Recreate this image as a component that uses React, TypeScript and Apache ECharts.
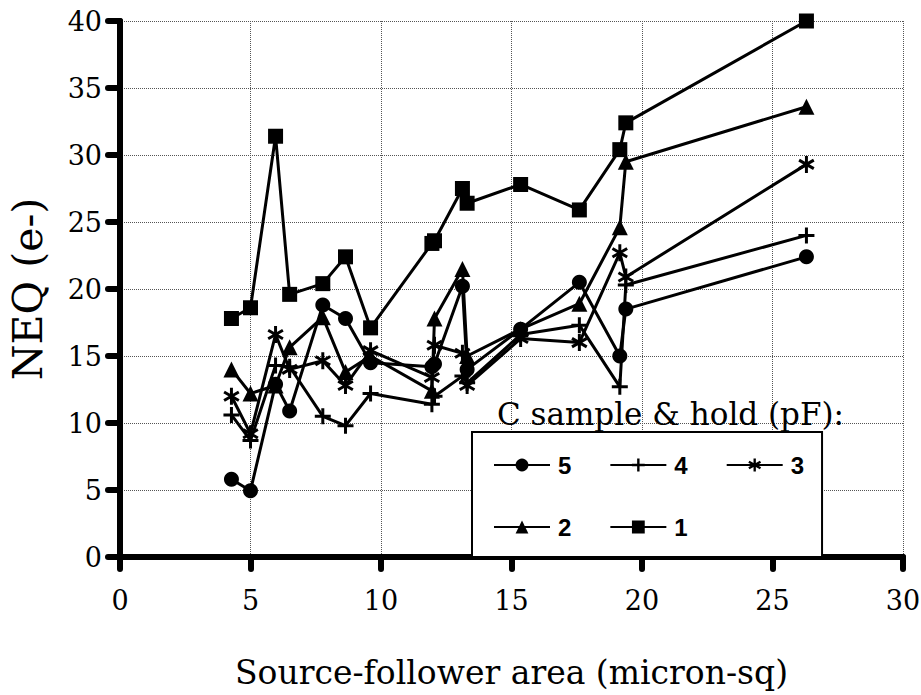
import React, { useEffect, useRef } from "react";
import * as echarts from "echarts";

// Source-follower area (micron-sq) for each measured device
const areas = [4.27, 5.0, 5.96, 6.5, 7.77, 8.64, 9.6, 11.95, 12.05, 13.12, 13.3, 15.35, 17.6, 19.15, 19.38, 26.3];

// NEQ (e-) for each C sample & hold value (pF)
const neq5 = [5.8, 4.95, 12.9, 10.9, 18.8, 17.8, 14.5, 14.2, 14.4, 20.2, 14.0, 17.0, 20.5, 15.0, 18.5, 22.4];
const neq4 = [10.6, 8.7, 14.3, 14.2, 10.5, 9.8, 12.2, 11.4, 12.0, 13.5, 13.0, 16.6, 17.3, 12.7, 20.3, 24.0];
const neq3 = [12.0, 9.2, 16.6, 14.0, 14.65, 12.8, 15.4, 13.4, 15.8, 15.2, 12.8, 16.3, 16.0, 22.7, 20.9, 29.3];
const neq2 = [14.0, 12.2, 12.8, 15.65, 17.9, 13.8, 15.0, 12.4, 17.8, 21.5, 15.0, 17.0, 18.9, 24.6, 29.5, 33.6];
const neq1 = [17.8, 18.6, 31.4, 19.6, 20.4, 22.4, 17.1, 23.4, 23.6, 27.5, 26.4, 27.8, 25.9, 30.4, 32.4, 40.0];

const seriesNames = ["5", "4", "3", "2", "1"];

const SERIF = "DejaVu Serif";

function asteriskPath(): string {
  const c = 8, L = 8, w = 1.4;
  const parts: string[] = [];
  for (const deg of [0, 60, -60]) {
    const t = (deg * Math.PI) / 180;
    const ux = Math.sin(t), uy = Math.cos(t);
    const nx = Math.cos(t), ny = -Math.sin(t);
    const pts = [
      [c + L * ux + w * nx, c + L * uy + w * ny],
      [c + L * ux - w * nx, c + L * uy - w * ny],
      [c - L * ux - w * nx, c - L * uy - w * ny],
      [c - L * ux + w * nx, c - L * uy + w * ny],
    ];
    parts.push(
      "M" + pts.map((p) => p[0].toFixed(3) + "," + p[1].toFixed(3)).join("L") + "Z"
    );
  }
  return "path://" + parts.join("");
}

const plusPath = "path://M6.5,0H9.5V6.5H16V9.5H9.5V16H6.5V9.5H0V6.5H6.5Z";

export default function App() {
  const ref = useRef<HTMLDivElement>(null);
  useEffect(() => {
    document.body.style.margin = "0";
    const chart = echarts.init(ref.current!, null, { renderer: "svg" });
    const symbols = ["circle", plusPath, asteriskPath(), "triangle", "rect"];
    const sizes = [15, 16, 17, 16, 15];
    const values = [neq5, neq4, neq3, neq2, neq1];
    const splitLine = { show: true, lineStyle: { type: "dotted", color: "#555", width: 1 } };
    const axisLine = { show: true, onZero: false, lineStyle: { color: "#000", width: 6 } };
    const axisTick = { show: true, inside: false, length: 12, lineStyle: { color: "#000", width: 6, cap: "round" } };
    chart.setOption({
      animation: false,
      backgroundColor: "#fff",
      title: {
        text: "C sample & hold (pF):",
        left: 497,
        top: 398,
        padding: 0,
        textStyle: { fontFamily: SERIF, fontSize: 31, fontWeight: "normal", color: "#000" },
      },
      grid: { left: 120, right: 18, top: 21, bottom: 138, containLabel: false, outerBoundsMode: "none" },
      xAxis: {
        type: "value",
        min: 0,
        max: 30,
        interval: 5,
        axisLine,
        axisTick,
        splitLine,
        axisLabel: { margin: 30, fontFamily: SERIF, fontSize: 27, color: "#000" },
        name: "Source-follower area (micron-sq)",
        nameLocation: "middle",
        nameGap: 99,
        nameTextStyle: { fontFamily: SERIF, fontSize: 33, color: "#000" },
      },
      yAxis: {
        type: "value",
        min: 0,
        max: 40,
        interval: 5,
        axisLine,
        axisTick,
        splitLine,
        axisLabel: { margin: 18, fontFamily: SERIF, fontSize: 27, color: "#000" },
        name: "NEQ (e-)",
        nameLocation: "middle",
        nameGap: 72,
        nameRotate: 90,
        nameTextStyle: { fontFamily: SERIF, fontSize: 41, color: "#000" },
      },
      legend: {
        data: seriesNames,
        left: 472,
        top: 432,
        width: 360,
        orient: "horizontal",
        itemWidth: 56,
        itemHeight: 16,
        itemGap: 38,
        padding: [21, 18, 18, 21],
        backgroundColor: "#fff",
        borderColor: "#000",
        borderWidth: 2,
        borderRadius: 0,
        selectedMode: false,
        lineStyle: { width: 2 },
        textStyle: {
          fontFamily: "Liberation Sans",
          fontWeight: "bold",
          fontSize: 24,
          lineHeight: 24,
          color: "#000",
          padding: [0, 0, 0, 3],
        },
      },
      series: seriesNames.map((name, k) => ({
        name,
        type: "line",
        data: areas.map((x, i) => [x, values[k][i]]),
        symbol: symbols[k],
        symbolSize: sizes[k],
        symbolKeepAspect: true,
        showSymbol: true,
        lineStyle: { color: "#000", width: 3 },
        itemStyle: { color: "#000" },
        z: 3,
      })),
    });
    return () => chart.dispose();
  }, []);
  return <div ref={ref} style={{ width: 921, height: 695 }} />;
}
